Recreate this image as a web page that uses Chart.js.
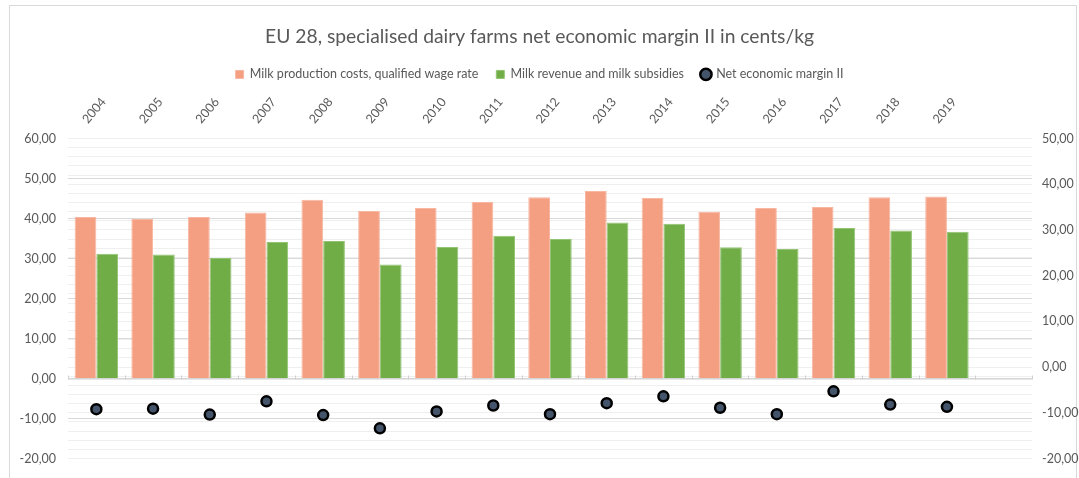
<!DOCTYPE html>
<html>
<head>
<meta charset="utf-8">
<script src="https://cdn.jsdelivr.net/npm/chart.js@4.4.1/dist/chart.umd.min.js"></script>
<style>
  html, body { margin: 0; padding: 0; background: #ffffff; }
  #wrap { position: relative; width: 1079px; height: 478px; }
</style>
</head>
<body>
<div id="wrap"><canvas id="chart"></canvas></div>
<script>
const years = ["2004", "2005", "2006", "2007", "2008", "2009", "2010", "2011", "2012", "2013", "2014", "2015", "2016", "2017", "2018", "2019", ""];
const productionCosts = [40.4, 39.9, 40.4, 41.5, 44.7, 41.9, 42.6, 44.1, 45.3, 46.9, 45.1, 41.7, 42.6, 42.9, 45.3, 45.5, null];
const milkRevenue = [31.2, 31.0, 30.1, 34.1, 34.4, 28.5, 32.9, 35.7, 34.9, 39.0, 38.7, 32.8, 32.4, 37.6, 37.0, 36.7, null];
const netMargin = [-9.2, -9.1, -10.4, -7.5, -10.5, -13.4, -9.7, -8.4, -10.3, -7.9, -6.4, -8.9, -10.3, -5.3, -8.2, -8.7, null];

const textColor = "#595959";
const fontFamily = "Lato, 'Liberation Sans', sans-serif";

function commaFormat(value) {
  return Number(value).toFixed(2).replace(".", ",");
}

// light frame around the chart, plus small category ticks on the zero line
const framePlugin = {
  id: "frame",
  beforeDraw(chart) {
    const ctx = chart.ctx;
    ctx.save();
    ctx.strokeStyle = "#d9d9d9";
    ctx.lineWidth = 1;
    ctx.strokeRect(9.5, 5.5, chart.width - 12, chart.height);
    ctx.restore();
  },
  afterDatasetsDraw(chart) {
    const x = chart.scales.x;
    const y0 = chart.scales.y.getPixelForValue(0);
    const ctx = chart.ctx;
    const step = (x.right - x.left) / years.length;
    ctx.save();
    ctx.strokeStyle = "#d0d0d0";
    ctx.lineWidth = 1;
    ctx.beginPath();
    ctx.moveTo(x.left, y0 + 0.5);
    ctx.lineTo(x.right, y0 + 0.5);
    for (let i = 0; i <= years.length; i++) {
      const px = Math.round(x.left + i * step) + 0.5;
      ctx.moveTo(px, y0 - 3);
      ctx.lineTo(px, y0 + 1);
    }
    ctx.stroke();
    ctx.restore();
  }
};

new Chart(document.getElementById("chart"), {
  data: {
    labels: years,
    datasets: [
      {
        type: "bar",
        label: "Milk production costs, qualified wage rate",
        data: productionCosts,
        backgroundColor: "#f49e82",
        borderColor: "#f7b7a1",
        borderWidth: 1,
        pointStyle: "rect",
        yAxisID: "y",
        categoryPercentage: 0.766,
        barPercentage: 1.0
      },
      {
        type: "bar",
        label: "Milk revenue and milk subsidies",
        data: milkRevenue,
        backgroundColor: "#70ad47",
        borderColor: "#93c474",
        borderWidth: 1,
        pointStyle: "rect",
        yAxisID: "y",
        categoryPercentage: 0.766,
        barPercentage: 1.0
      },
      {
        type: "line",
        label: "Net economic margin II",
        data: netMargin,
        showLine: false,
        pointStyle: "circle",
        pointRadius: 5,
        pointHoverRadius: 5,
        pointBackgroundColor: "#44546a",
        pointBorderColor: "#000000",
        pointBorderWidth: 2.5,
        backgroundColor: "#44546a",
        borderColor: "#000000",
        borderWidth: 2.5,
        yAxisID: "y1"
      }
    ]
  },
  options: {
    responsive: true,
    maintainAspectRatio: false,
    animation: false,
    layout: { padding: { top: 19, left: 0, right: 0, bottom: 8 } },
    plugins: {
      title: {
        display: true,
        text: "EU 28, specialised dairy farms net economic margin II in cents/kg",
        color: textColor,
        font: { family: fontFamily, size: 19.3, weight: "normal" },
        padding: { top: 6, bottom: 2 }
      },
      legend: {
        display: true,
        labels: {
          color: textColor,
          font: { family: fontFamily, size: 12.5 },
          usePointStyle: true,
          boxWidth: 8,
          boxHeight: 8,
          padding: 18
        }
      },
      tooltip: { enabled: false }
    },
    scales: {
      x: {
        type: "category",
        position: "top",
        offset: true,
        grid: { display: false },
        border: { display: false },
        ticks: {
          color: textColor,
          font: { family: fontFamily, size: 12.5 },
          minRotation: 50,
          maxRotation: 50,
          autoSkip: false,
          padding: 4
        }
      },
      y: {
        position: "left",
        min: -20,
        max: 60,
        border: { display: false },
        grid: { color: "#d9d9d9", drawTicks: false },
        afterFit(scale) { scale.width = 68; },
        ticks: {
          stepSize: 10,
          color: textColor,
          font: { family: fontFamily, size: 12.5 },
          padding: 12,
          callback: (v) => commaFormat(v)
        }
      },
      y1: {
        position: "right",
        min: -20,
        max: 50,
        border: { display: false },
        grid: { color: "#efefef", drawTicks: false },
        afterFit(scale) { scale.width = 1079 - 1032; },
        ticks: {
          stepSize: 2,
          autoSkip: false,
          color: textColor,
          font: { family: fontFamily, size: 12.5 },
          padding: 10,
          callback: (v) => (v % 10 === 0 ? commaFormat(v) : "")
        }
      }
    }
  },
  plugins: [framePlugin]
});
</script>
</body>
</html>
